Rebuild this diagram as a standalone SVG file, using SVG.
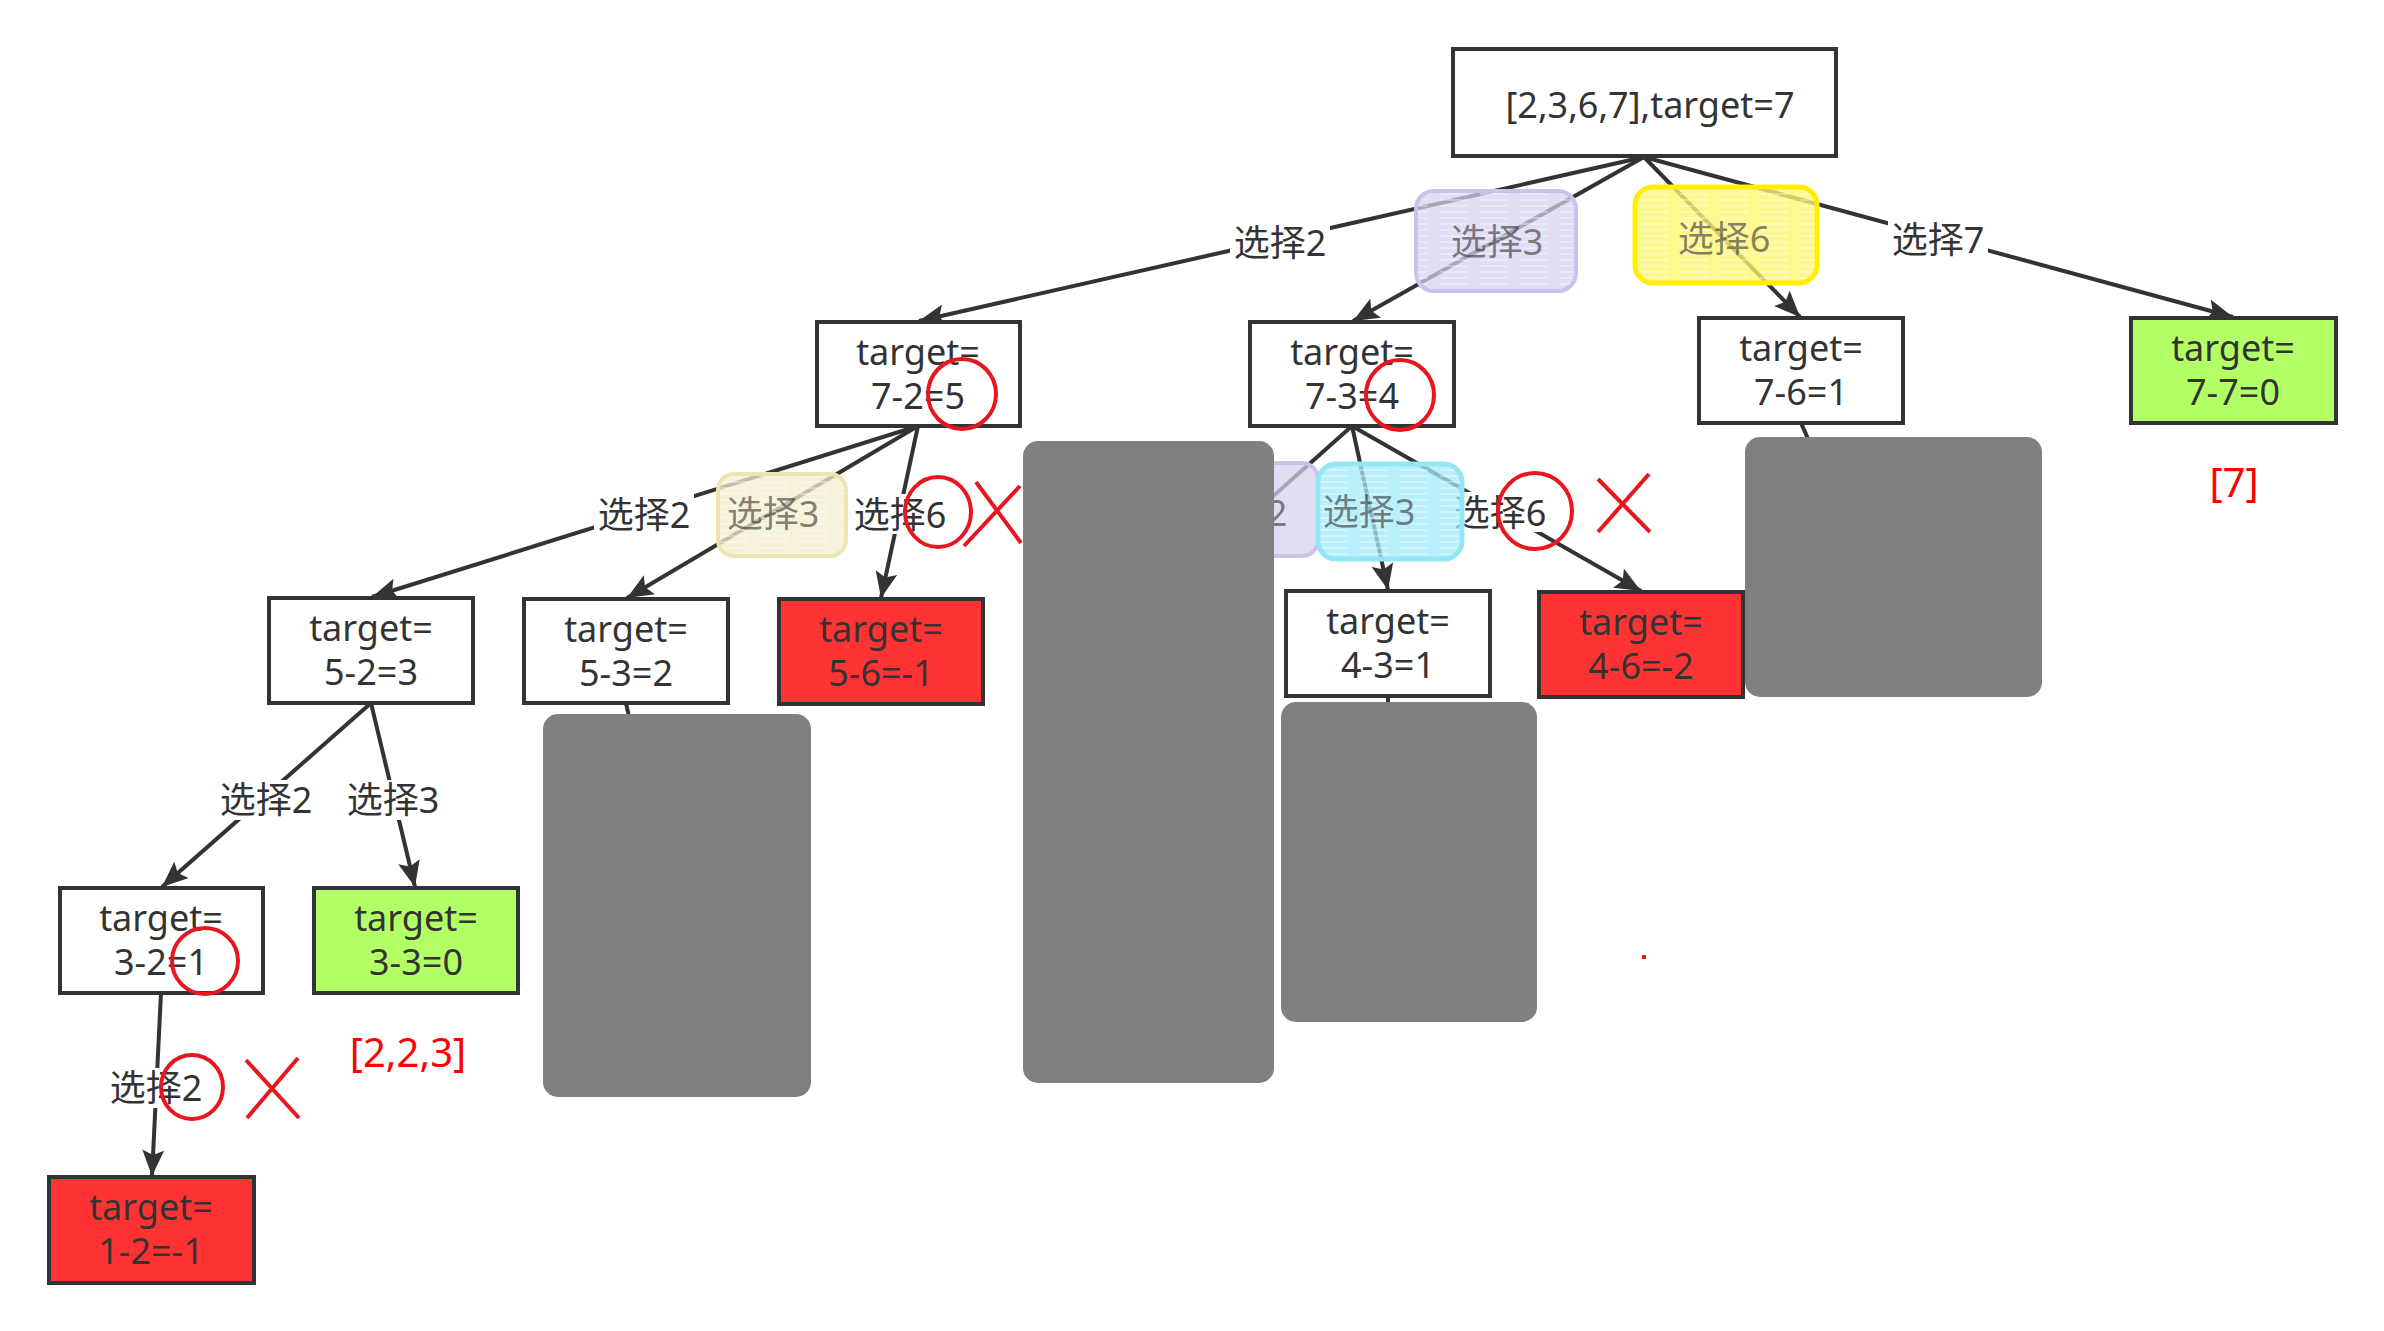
<svg xmlns="http://www.w3.org/2000/svg" width="2384" height="1331" viewBox="0 0 2384 1331">
<defs>
<style>
.node rect{stroke:#333;stroke-width:4}
.w{fill:#fff}.g{fill:#b3ff66}.r{fill:#ff3333}
text{font-family:"Noto Sans","Noto Sans CJK SC",sans-serif;font-size:36px;fill:#333;text-anchor:middle}
.edge{stroke:#333;stroke-width:4;fill:none}
.arr{marker-end:url(#arr)}
.lblbg{fill:#fff}
.tag text{fill:#333;fill-opacity:0.62}
.mark{stroke:#e8161e;stroke-width:4;fill:none}
.res{fill:#ff0000;font-size:40px}
.gray{fill:#808080}
</style>
<marker id="arr" markerWidth="28" markerHeight="22" refX="26" refY="11" orient="auto" markerUnits="userSpaceOnUse">
<path d="M0,0 L26,11 L0,22 L5,11 Z" fill="#333"/>
</marker>
<pattern id="hatch" width="40" height="6" patternUnits="userSpaceOnUse">
<path d="M0,2 H28" stroke="#fff" stroke-width="1.5" stroke-opacity="0.45"/>
</pattern>
</defs>
<rect width="2384" height="1331" fill="#fff"/>

<g id="connectors">
<line class="edge arr" x1="1644" y1="157" x2="919" y2="321"/>
<line class="edge arr" x1="1644" y1="157" x2="1353" y2="321"/>
<line class="edge arr" x1="1644" y1="157" x2="1800" y2="317"/>
<line class="edge arr" x1="1644" y1="157" x2="2233" y2="317"/>
<line class="edge arr" x1="918" y1="426" x2="372" y2="597"/>
<line class="edge arr" x1="918" y1="426" x2="627" y2="598"/>
<line class="edge arr" x1="918" y1="426" x2="881" y2="598"/>
<line class="edge" x1="1352" y1="426" x2="1190" y2="570"/>
<line class="edge arr" x1="1352" y1="426" x2="1388" y2="590"/>
<line class="edge arr" x1="1352" y1="426" x2="1641" y2="591"/>
<line class="edge" x1="1801" y1="423" x2="1822" y2="470"/>
<line class="edge arr" x1="371" y1="703" x2="162" y2="887"/>
<line class="edge arr" x1="371" y1="703" x2="415" y2="887"/>
<line class="edge" x1="626" y1="703" x2="634" y2="740"/>
<line class="edge" x1="1388" y1="696" x2="1388" y2="720"/>
<line class="edge arr" x1="161" y1="993" x2="152" y2="1176"/>
</g>

<g id="labels">
<rect class="lblbg" x="1230" y="222" width="100" height="40"/>
<text x="1280" y="256">选择2</text>
<rect class="lblbg" x="1888" y="220" width="100" height="40"/>
<text x="1938" y="253">选择7</text>
<rect class="lblbg" x="594" y="494" width="100" height="40"/>
<text x="644" y="528">选择2</text>
<rect class="lblbg" x="850" y="494" width="100" height="40"/>
<text x="900" y="528">选择6</text>
<rect class="lblbg" x="1452" y="492" width="98" height="40"/>
<text x="1500" y="526">选择6</text>
<rect class="lblbg" x="216" y="780" width="100" height="40"/>
<text x="266" y="813">选择2</text>
<rect class="lblbg" x="346" y="780" width="96" height="40"/>
<text x="393" y="813">选择3</text>
<rect class="lblbg" x="106" y="1068" width="100" height="40"/>
<text x="156" y="1101">选择2</text>
</g>

<g id="n-root" class="node"><rect class="w" x="1453" y="49" width="383" height="107"/><text x="1650" y="118">[2,3,6,7],target=7</text></g>
<g id="n-7-2" class="node"><rect class="w" x="817" y="322" width="203" height="104"/><text x="918" y="365">target=<tspan x="918" dy="44">7-2=5</tspan></text></g>
<g id="n-7-3" class="node"><rect class="w" x="1250" y="322" width="204" height="104"/><text x="1352" y="365">target=<tspan x="1352" dy="44">7-3=4</tspan></text></g>
<g id="n-7-6" class="node"><rect class="w" x="1699" y="318" width="204" height="105"/><text x="1801" y="361">target=<tspan x="1801" dy="44">7-6=1</tspan></text></g>
<g id="n-7-7" class="node"><rect class="g" x="2131" y="318" width="205" height="105"/><text x="2233" y="361">target=<tspan x="2233" dy="44">7-7=0</tspan></text></g>
<g id="n-5-2" class="node"><rect class="w" x="269" y="598" width="204" height="105"/><text x="371" y="641">target=<tspan x="371" dy="44">5-2=3</tspan></text></g>
<g id="n-5-3" class="node"><rect class="w" x="524" y="599" width="204" height="104"/><text x="626" y="642">target=<tspan x="626" dy="44">5-3=2</tspan></text></g>
<g id="n-5-6" class="node"><rect class="r" x="779" y="599" width="204" height="105"/><text x="881" y="642">target=<tspan x="881" dy="44">5-6=-1</tspan></text></g>
<g id="n-4-3" class="node"><rect class="w" x="1286" y="591" width="204" height="105"/><text x="1388" y="634">target=<tspan x="1388" dy="44">4-3=1</tspan></text></g>
<g id="n-4-6" class="node"><rect class="r" x="1539" y="592" width="204" height="105"/><text x="1641" y="635">target=<tspan x="1641" dy="44">4-6=-2</tspan></text></g>
<g id="n-3-2" class="node"><rect class="w" x="60" y="888" width="203" height="105"/><text x="161" y="931">target=<tspan x="161" dy="44">3-2=1</tspan></text></g>
<g id="n-3-3" class="node"><rect class="g" x="314" y="888" width="204" height="105"/><text x="416" y="931">target=<tspan x="416" dy="44">3-3=0</tspan></text></g>
<g id="n-1-2" class="node"><rect class="r" x="49" y="1177" width="205" height="106"/><text x="151" y="1220">target=<tspan x="151" dy="44">1-2=-1</tspan></text></g>

<g id="tag-lav-top" class="tag">
<rect x="1416" y="191" width="160" height="100" rx="18" fill="#d6d1f0" fill-opacity="0.72" stroke="#c9c2ec" stroke-width="4"/>
<rect x="1418" y="193" width="156" height="96" rx="16" fill="url(#hatch)"/>
<text x="1497" y="255">选择3</text>
</g>
<g id="tag-yellow" class="tag">
<rect x="1635" y="187" width="182" height="96" rx="18" fill="#fff570" fill-opacity="0.78" stroke="#ffee00" stroke-width="5"/>
<rect x="1637" y="189" width="178" height="92" rx="16" fill="url(#hatch)"/>
<text x="1724" y="252">选择6</text>
</g>
<g id="tag-cream" class="tag">
<rect x="718" y="474" width="128" height="82" rx="16" fill="#f3edcc" fill-opacity="0.75" stroke="#ede4b4" stroke-width="4"/>
<rect x="720" y="476" width="124" height="78" rx="14" fill="url(#hatch)"/>
<text x="773" y="527">选择3</text>
</g>
<g id="tag-lav-mid" class="tag">
<rect x="1176" y="463" width="142" height="93" rx="16" fill="#d6d1f0" fill-opacity="0.72" stroke="#c9c2ec" stroke-width="4"/>
<text x="1241" y="526">选择2</text>
</g>
<g id="tag-cyan" class="tag">
<rect x="1318" y="464" width="144" height="95" rx="18" fill="#a3ebf9" fill-opacity="0.75" stroke="#94e5f6" stroke-width="5"/>
<rect x="1320" y="466" width="140" height="91" rx="16" fill="url(#hatch)"/>
<text x="1369" y="525">选择3</text>
</g>

<g id="marks">
<ellipse class="mark" cx="962" cy="394" rx="34" ry="35"/>
<ellipse class="mark" cx="1400" cy="395" rx="34" ry="35"/>
<ellipse class="mark" cx="938" cy="512" rx="33" ry="35"/>
<ellipse class="mark" cx="1535" cy="511" rx="37" ry="38"/>
<ellipse class="mark" cx="205" cy="961" rx="33" ry="33"/>
<ellipse class="mark" cx="192" cy="1087" rx="31" ry="32"/>
<path class="mark" d="M976,482 L1021,543 M1020,486 L964,546"/>
<path class="mark" d="M1598,479 L1650,532 M1649,474 L1598,532"/>
<path class="mark" d="M246,1060 L299,1118 M298,1058 L247,1118"/>
<rect x="1642" y="955" width="4" height="4" fill="#e8161e"/>
<text class="res" x="408" y="1067">[2,2,3]</text>
<text class="res" x="2234" y="497">[7]</text>
</g>

<g id="redactions">
<rect class="gray" x="543" y="714" width="268" height="383" rx="15"/>
<rect class="gray" x="1023" y="441" width="251" height="642" rx="15"/>
<rect class="gray" x="1281" y="702" width="256" height="320" rx="15"/>
<rect class="gray" x="1745" y="437" width="297" height="260" rx="15"/>
</g>
</svg>
